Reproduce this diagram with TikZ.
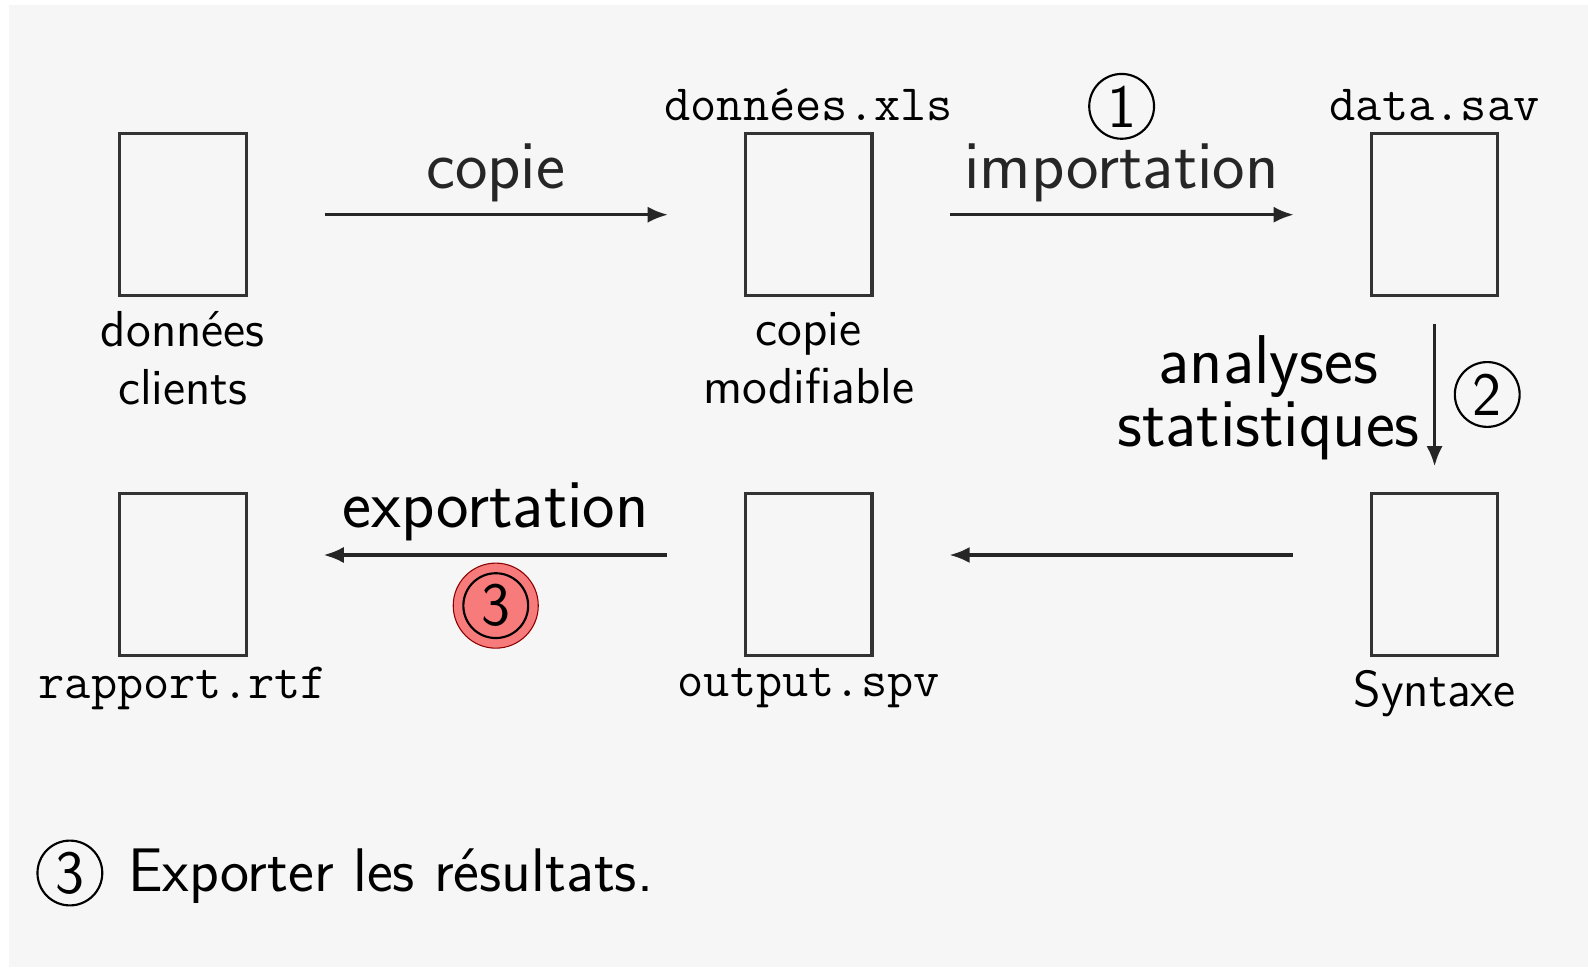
\documentclass[tikz,border=0pt]{standalone}
\usepackage{fontspec}
\usetikzlibrary{positioning,arrows.meta}

\definecolor{fond}{HTML}{F6F6F6}
\definecolor{rouge}{HTML}{F77B7B}
\newcommand\grand{\fontsize{19.4}{16.5}\selectfont}
\newcommand\moyen{\fontsize{17.3}{19}\selectfont}
\newcommand\petit{\fontsize{14.2}{16.2}\selectfont}
\newcommand\fixe{\fontsize{14.3}{16.2}\selectfont}

\begin{document}
\begin{tikzpicture}[
        doc/.style={draw=black!80, line width=0.85pt, minimum width=1.25cm,
                    minimum height=1.6cm, inner sep=0pt},
        nom/.style={font=\petit\sffamily, align=center, anchor=base},
        fichier/.style={font=\fixe\ttfamily, anchor=base},
        action/.style={font=\grand\sffamily, align=center, anchor=base, inner sep=1pt},
        etape/.style={circle, draw, line width=0.6pt, minimum size=0.64cm,
                      inner sep=0pt, font=\moyen\sffamily},
        pastille/.style={circle, fill=rouge, draw=red!55!black, line width=0.3pt,
                         minimum size=0.84cm, inner sep=0pt},
        fleche/.style={-{Latex[length=0.2cm,width=0.16cm]}, line width=0.9pt,
                       black!85, shorten <=0.76cm, shorten >=0.75cm}
    ]
    % fond
    \useasboundingbox (0,0) rectangle (15.68,-9.58);
    \fill[fond] (0.09,-0.05) rectangle (15.68,-9.55);

    % les six documents
    \node[doc] (clients) at (1.805,-2.12) {};
    \node[doc] (copie)   at (7.985,-2.12) {};
    \node[doc] (sav)     at (14.165,-2.12) {};
    \node[doc] (rapport) at (1.805,-5.67) {};
    \node[doc] (spv)     at (7.985,-5.67) {};
    \node[doc] (syntaxe) at (14.165,-5.67) {};

    % noms des fichiers (base = dernière ligne)
    \node[fichier] at ([yshift=0.12cm]copie.north) {données.xls};
    \node[fichier] at ([yshift=0.12cm]sav.north) {data.sav};
    \node[nom] at ([yshift=-1.06cm]clients.south) {données\\clients};
    \node[nom] at ([yshift=-1.05cm]copie.south) {copie\\modifiable};
    \node[fichier] at ([yshift=-0.41cm]rapport.south) {rapport.rtf};
    \node[fichier] at ([yshift=-0.39cm]spv.south) {output.spv};
    \node[nom] at ([yshift=-0.49cm]syntaxe.south) {Syntaxe};

    % flux
    \draw[fleche] (clients) -- (copie)
        node[action, midway, yshift=0.26cm] {copie};
    \draw[fleche] (copie) -- (sav)
        node[action, midway, yshift=0.26cm] (imp) {importation};
    \node[etape] at ([yshift=0.81cm]imp.base) {1};

    \draw[fleche, shorten <=0.26cm, shorten >=0.25cm] (sav) -- (syntaxe)
        coordinate[midway] (mi);
    \node[action] at ([xshift=-1.64cm, yshift=-0.51cm]mi) {analyses\\statistiques};
    \node[etape] at ([xshift=0.52cm]mi) {2};

    \draw[fleche] ([yshift=0.19cm]syntaxe.west) -- ([yshift=0.19cm]spv.east);
    \draw[fleche] ([yshift=0.19cm]spv.west) -- ([yshift=0.19cm]rapport.east)
        coordinate[midway] (mexp);
    \node[action] at ([yshift=0.27cm]mexp) {exportation};
    \node[pastille] (p3) at ([yshift=-0.50cm]mexp) {};
    \node[etape] at (p3) {3};

    % légende
    \node[etape] (leg) at (0.69,-8.62) {3};
    \node[font=\moyen\sffamily, anchor=base west] at (1.14,-8.80) {Exporter les résultats.};
\end{tikzpicture}
\end{document}
